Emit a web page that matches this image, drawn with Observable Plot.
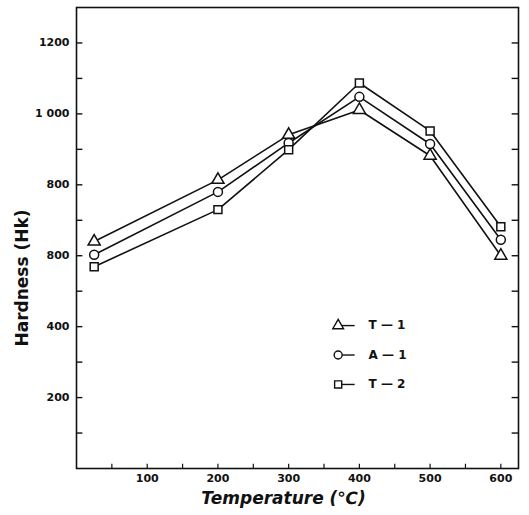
<!DOCTYPE html>
<html>
<head>
<meta charset="utf-8">
<script src="https://cdn.jsdelivr.net/npm/d3@7"></script>
<script src="https://cdn.jsdelivr.net/npm/@observablehq/plot@0.6"></script>
<style>
  html, body { margin: 0; padding: 0; background: #fff; }
  #chart svg { display: block; }
</style>
</head>
<body>
<div id="chart"></div>
<script>
// ---- data ----
const temps = [25, 200, 300, 400, 500, 600];
const seriesNames = ["T — 1", "A — 1", "T — 2"];
const hardT1 = [640, 814, 941, 1011, 882, 600];
const hardA1 = [603, 780, 918, 1048, 915, 645];
const hardT2 = [569, 730, 899, 1087, 952, 682];
const symbols = ["triangle", "circle", "square"];

const xTicks = [100, 200, 300, 400, 500, 600];
const xTickLabels = ["100", "200", "300", "400", "500", "600"];
const yTicks = [200, 400, 600, 800, 1000, 1200];
const yTickLabels = ["200", "400", "800", "800", "1 000", "1200"];
const xMinor = d3.range(50, 625, 50);
const yMinor = d3.range(100, 1300, 100);

const xLabel = "Temperature (℃)";
const yLabel = "Hardness (Hk)";

// ---- build table ----
const allSeries = [hardT1, hardA1, hardT2];
const rows = [];
allSeries.forEach((vals, s) => {
  vals.forEach((v, i) => rows.push({series: seriesNames[s], sym: symbols[s], t: temps[i], h: v}));
});
const legendRows = seriesNames.map((name, i) => ({name, sym: symbols[i], i}));

const xMap = new Map(xTicks.map((d, i) => [d, xTickLabels[i]]));
const yMap = new Map(yTicks.map((d, i) => [d, yTickLabels[i]]));

const ink = "#111";
const font = "'DejaVu Sans', sans-serif";

// legend placement (inside plot area, top-left of the key block)
const legX = 370, legY0 = 403, legStep = 83;
const legendYof = d => legY0 - d.i * legStep;

const chart = Plot.plot({
  width: 529,
  height: 515,
  marginLeft: 76,
  marginRight: 11,
  marginTop: 7,
  marginBottom: 47,
  style: {fontFamily: font, color: ink, background: "#fff"},
  x: {domain: [0, 625]},
  y: {domain: [0, 1300]},
  symbol: {domain: symbols, range: symbols},
  marks: [
    Plot.frame({stroke: ink, strokeWidth: 1.6}),
    // inward ticks on left and right borders
    Plot.ruleY(yMinor, {y: d => d, x1: 0, x2: 9, stroke: ink, strokeWidth: 1.4}),
    Plot.ruleY(yMinor, {y: d => d, x1: 616, x2: 625, stroke: ink, strokeWidth: 1.4}),
    // inward ticks on bottom border
    Plot.ruleX(xMinor, {x: d => d, y1: 0, y2: 12, stroke: ink, strokeWidth: 1.2}),
    Plot.axisY(yTicks, {tickSize: 0, tickPadding: 7, fontSize: 11, fontWeight: "bold", tickFormat: d => yMap.get(d), label: null}),
    Plot.axisX(xTicks, {tickSize: 0, tickPadding: 6, fontSize: 11, fontWeight: "bold", tickFormat: d => xMap.get(d), label: null}),
    // axis titles
    Plot.text([yLabel], {text: d => d, frameAnchor: "left", textAnchor: "middle", dx: -54, dy: 40, rotate: -90, fontSize: 17, fontWeight: "bold", fill: ink}),
    Plot.text([xLabel], {text: d => d, frameAnchor: "bottom", dx: -14, dy: 35, fontSize: 17, fontWeight: 600, fontStyle: "italic", fill: ink}),
    // series
    Plot.line(rows, {x: "t", y: "h", z: "series", stroke: ink, strokeWidth: 1.6}),
    Plot.dot(rows, {x: "t", y: "h", symbol: "sym", r: 4.5, fill: "#fff", stroke: ink, strokeWidth: 1.5}),
    // legend inside the plot
    Plot.ruleY(legendRows, {y: legendYof, x1: () => legX + 4, x2: () => legX + 24, stroke: ink, strokeWidth: 1.4}),
    Plot.dot(legendRows, {x: () => legX, y: legendYof, symbol: "sym", r: 4, fill: "#fff", stroke: ink, strokeWidth: 1.4}),
    Plot.text(legendRows, {x: () => legX + 43, y: legendYof, text: "name", textAnchor: "start", fontSize: 12, fontWeight: "bold", fill: ink})
  ]
});

document.getElementById("chart").appendChild(chart);
</script>
</body>
</html>
